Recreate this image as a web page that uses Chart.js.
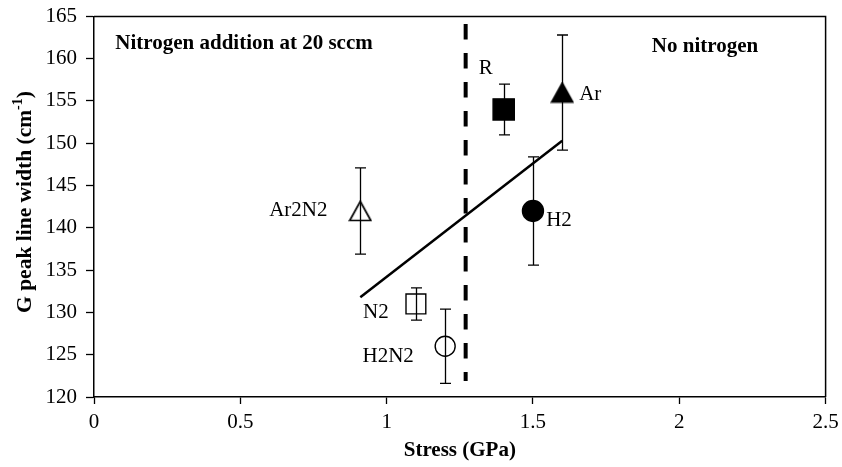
<!DOCTYPE html>
<html>
<head>
<meta charset="utf-8">
<script src="https://cdn.jsdelivr.net/npm/chart.js@4/dist/chart.umd.min.js"></script>
<style>
  html, body { margin: 0; padding: 0; background: #fff; }
  #wrap { width: 842px; height: 467px; position: relative; }
</style>
</head>
<body>
<div id="wrap"><canvas id="c"></canvas></div>
<script>
// ---- data ----
const sampleNames = ['Ar2N2', 'N2', 'H2N2', 'R', 'H2', 'Ar'];
const stressGPa   = [0.91, 1.10, 1.20, 1.40, 1.50, 1.60];
const gPeakWidth  = [142, 131, 126, 154, 142, 156];
const errorBar    = [5.1, 1.9, 4.4, 3.0, 6.4, 6.8];
const trendX      = [0.91, 1.60];
const trendY      = [131.8, 150.3];
const dividerX    = [1.27, 1.27];
const dividerY    = [164.1, 121.9];
const xTicks      = [0, 0.5, 1, 1.5, 2, 2.5];
const yTicks      = [120, 125, 130, 135, 140, 145, 150, 155, 160, 165];
const leftRegionLabel  = 'Nitrogen addition at 20 sccm';
const rightRegionLabel = 'No nitrogen';
const xTitle = 'Stress (GPa)';
const yTitleMain = 'G peak line width (cm';
const yTitleSup = '-1';
const yTitleEnd = ')';

const SERIF = '"Liberation Serif", "Times New Roman", Times, serif';

// triangle markers drawn as small canvases (bounding box centred on the value)
function triangleMarker(filled) {
  const c = document.createElement('canvas');
  c.width = 24; c.height = 22;
  const g = c.getContext('2d');
  g.beginPath();
  g.moveTo(12, 1.5); g.lineTo(22.5, 20.5); g.lineTo(1.5, 20.5); g.closePath();
  g.lineWidth = 1.7; g.strokeStyle = '#000'; g.lineJoin = 'miter';
  if (filled) { g.fillStyle = '#000'; g.fill(); }
  g.stroke();
  return c;
}
const openTri = triangleMarker(false);
const fullTri = triangleMarker(true);

// styling per sample
const markerStyle = [openTri, 'rect', 'circle', 'rect', 'circle', fullTri];
const markerFill  = ['rgba(0,0,0,0)', 'rgba(0,0,0,0)', 'rgba(0,0,0,0)', '#000', '#000', '#000'];
const markerSize  = [12, 14, 10, 15, 10.5, 12];
// label offsets in pixels relative to marker
const labelOffset = [[-62, 0], [-40, 9], [-57, 10], [-18, -41], [26, 10], [28, 2]];

const points = stressGPa.map((x, i) => ({ x: x, y: gPeakWidth[i] }));

const overlay = {
  id: 'overlay',
  afterDatasetsDraw(chart) {
    const ctx = chart.ctx;
    const xs = chart.scales.x, ys = chart.scales.y;
    ctx.save();
    // error bars
    ctx.strokeStyle = '#000';
    ctx.lineWidth = 1.3;
    stressGPa.forEach((x, i) => {
      const px = Math.round(xs.getPixelForValue(x)) + 0.5;
      const top = ys.getPixelForValue(gPeakWidth[i] + errorBar[i]);
      const bot = ys.getPixelForValue(gPeakWidth[i] - errorBar[i]);
      ctx.beginPath();
      ctx.moveTo(px, top); ctx.lineTo(px, bot);
      ctx.moveTo(px - 5.5, top); ctx.lineTo(px + 5.5, top);
      ctx.moveTo(px - 5.5, bot); ctx.lineTo(px + 5.5, bot);
      ctx.stroke();
    });
    // point labels
    ctx.fillStyle = '#000';
    ctx.font = '21px ' + SERIF;
    ctx.textAlign = 'center';
    ctx.textBaseline = 'middle';
    sampleNames.forEach((n, i) => {
      const px = xs.getPixelForValue(stressGPa[i]);
      const py = ys.getPixelForValue(gPeakWidth[i]);
      ctx.fillText(n, px + labelOffset[i][0], py + labelOffset[i][1]);
    });
    ctx.restore();
  },
  afterDraw(chart) {
    const ctx = chart.ctx;
    const a = chart.chartArea;
    ctx.save();
    // frame top + right
    ctx.strokeStyle = '#000';
    ctx.lineWidth = 1.5;
    ctx.beginPath();
    ctx.moveTo(a.left, a.top); ctx.lineTo(a.right, a.top); ctx.lineTo(a.right, a.bottom);
    ctx.stroke();
    // region labels
    ctx.fillStyle = '#000';
    ctx.font = 'bold 21px ' + SERIF;
    ctx.textBaseline = 'middle';
    ctx.textAlign = 'center';
    ctx.fillText(leftRegionLabel, 244, 44);
    ctx.fillText(rightRegionLabel, 705, 47);
    // x title
    ctx.fillText(xTitle, (a.left + a.right) / 2, 451);
    // y title with superscript
    ctx.translate(25, 202);
    ctx.rotate(-Math.PI / 2);
    const fMain = 'bold 21.5px ' + SERIF, fSup = 'bold 14px ' + SERIF;
    ctx.font = fMain; const w1 = ctx.measureText(yTitleMain).width; const w3 = ctx.measureText(yTitleEnd).width;
    ctx.font = fSup; const w2 = ctx.measureText(yTitleSup).width;
    let sx = -(w1 + w2 + w3) / 2;
    ctx.textAlign = 'left';
    ctx.font = fMain; ctx.fillText(yTitleMain, sx, 0); sx += w1;
    ctx.font = fSup; ctx.fillText(yTitleSup, sx, -7); sx += w2;
    ctx.font = fMain; ctx.fillText(yTitleEnd, sx, 0);
    ctx.restore();
  }
};

new Chart(document.getElementById('c'), {
  type: 'scatter',
  data: {
    datasets: [
      {
        label: 'divider',
        data: dividerX.map((x, i) => ({ x: x, y: dividerY[i] })),
        showLine: true,
        borderColor: '#000',
        borderWidth: 4,
        borderDash: [15.5, 13.5],
        pointRadius: 0,
        order: 3
      },
      {
        label: 'trend',
        data: trendX.map((x, i) => ({ x: x, y: trendY[i] })),
        showLine: true,
        borderColor: '#000',
        borderWidth: 2.5,
        pointRadius: 0,
        order: 2
      },
      {
        label: 'samples',
        data: points,
        pointStyle: markerStyle,
        pointRadius: markerSize,
        pointHoverRadius: markerSize,
        backgroundColor: markerFill,
        borderColor: '#000',
        pointBorderWidth: 1.4,
        showLine: false,
        order: 1
      }
    ]
  },
  options: {
    responsive: true,
    maintainAspectRatio: false,
    animation: false,
    devicePixelRatio: 1,
    layout: { padding: { left: 0, right: 15, top: 15, bottom: 0 } },
    plugins: { legend: { display: false }, tooltip: { enabled: false } },
    scales: {
      x: {
        type: 'linear', min: 0, max: 2.5,
        afterBuildTicks(s) { s.ticks = xTicks.map(v => ({ value: v })); },
        afterFit(s) { s.height = 70; s.paddingLeft = 0; s.paddingRight = 0; },
        grid: { drawOnChartArea: false, drawTicks: true, tickLength: 7, tickColor: '#000', tickWidth: 1.3 },
        border: { display: true, color: '#000', width: 1.5 },
        ticks: { color: '#000', font: { family: SERIF, size: 21 }, padding: 6, maxRotation: 0,
                 callback: v => String(v) }
      },
      y: {
        type: 'linear', min: 120, max: 165,
        afterBuildTicks(s) { s.ticks = yTicks.map(v => ({ value: v })); },
        afterFit(s) { s.width = 94; s.paddingTop = 0; s.paddingBottom = 0; },
        grid: { drawOnChartArea: false, drawTicks: true, tickLength: 8, tickColor: '#000', tickWidth: 1.3 },
        border: { display: true, color: '#000', width: 1.5 },
        ticks: { color: '#000', font: { family: SERIF, size: 21 }, padding: 9,
                 callback: v => String(v) }
      }
    }
  },
  plugins: [overlay]
});
</script>
</body>
</html>
